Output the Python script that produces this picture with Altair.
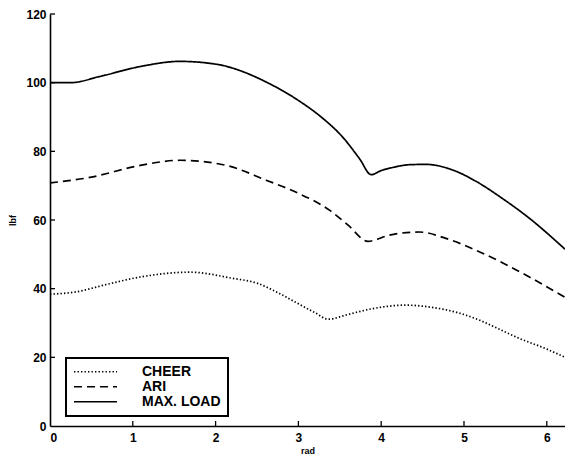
import altair as alt
import pandas as pd

# ---- data ----
series_order = ["CHEER", "ARI", "MAX. LOAD"]

cheer_x = [0.0, 0.3, 0.68, 1.09, 1.69, 2.21, 2.5, 2.77, 3.0, 3.2, 3.36, 3.6, 3.9, 4.3, 4.6, 4.94, 5.19, 5.39, 5.67, 5.99, 6.22]
cheer_y = [38.4, 39.0, 41.2, 43.4, 44.8, 43.0, 41.6, 38.6, 35.6, 33.0, 31.1, 32.5, 34.2, 35.2, 34.6, 32.9, 30.8, 28.6, 25.5, 22.5, 20.0]

ari_x = [0.0, 0.48, 1.09, 1.57, 2.13, 2.61, 2.98, 3.38, 3.6, 3.84, 4.1, 4.46, 4.8, 5.19, 5.79, 6.22]
ari_y = [70.8, 72.4, 75.9, 77.4, 75.9, 71.6, 68.0, 62.8, 58.5, 53.8, 55.6, 56.5, 54.5, 50.7, 43.4, 37.5]

max_x = [0.0, 0.25, 0.6, 1.09, 1.57, 2.05, 2.21, 2.61, 3.02, 3.26, 3.54, 3.74, 3.88, 4.0, 4.14, 4.34, 4.54, 4.87, 5.15, 5.45, 5.79, 6.22]
max_y = [100.0, 100.0, 101.8, 104.7, 106.2, 105.2, 104.2, 100.2, 94.5, 90.3, 84.0, 77.8, 73.2, 74.4, 75.3, 76.1, 76.2, 74.5, 71.2, 66.5, 60.5, 51.5]

x_ticks = [0, 1, 2, 3, 4, 5, 6]
y_ticks = [0, 20, 40, 60, 80, 100, 120]

dash_styles = [[1.4, 2.1], [8, 5], [1, 0]]

rows = []
for name, xs, ys in [("CHEER", cheer_x, cheer_y), ("ARI", ari_x, ari_y), ("MAX. LOAD", max_x, max_y)]:
    for xv, yv in zip(xs, ys):
        rows.append({"series": name, "rad": xv, "lbf": yv})
df = pd.DataFrame(rows)

W, H = 515, 412
FONT = "Liberation Sans"

x_scale = alt.Scale(domain=[0, 6.22], nice=False, zero=False)
y_scale = alt.Scale(domain=[0, 120], nice=False)

axis_common = dict(
    ticks=False, grid=False, domainColor="black", domainWidth=1.6,
    labelFont=FONT, labelFontSize=12, labelFontWeight="bold", labelColor="black",
    titleFont=FONT, titleFontSize=9, titleFontWeight="bold", titleColor="black",
)

x_axis = alt.Axis(values=x_ticks, title="rad", labelPadding=6, titlePadding=3, **axis_common)
y_axis = alt.Axis(values=y_ticks, title="lbf", labelPadding=4, titlePadding=8, **axis_common)

lines = alt.Chart(df).mark_line(color="black", strokeWidth=1.7, interpolate="monotone").encode(
    x=alt.X("rad:Q", scale=x_scale, axis=x_axis),
    y=alt.Y("lbf:Q", scale=y_scale, axis=y_axis),
    strokeDash=alt.StrokeDash(
        "series:N",
        scale=alt.Scale(domain=series_order, range=dash_styles),
        sort=series_order,
        legend=alt.Legend(
            title=None, orient="none", legendX=16, legendY=344,
            symbolType="stroke", symbolSize=1849, symbolStrokeWidth=1.7,
            symbolStrokeColor="black",
            labelFont=FONT, labelFontSize=14, labelFontWeight="bold", labelColor="black",
            labelOffset=24, clipHeight=13.5, rowPadding=0, padding=7,
            strokeColor="black",
        ),
    ),
)

ytick_df = pd.DataFrame({"lbf": y_ticks[1:]})
xtick_df = pd.DataFrame({"rad": x_ticks[1:]})

yticks = alt.Chart(ytick_df).mark_rule(color="black", strokeWidth=1.3).encode(
    y=alt.Y("lbf:Q", scale=y_scale, axis=y_axis),
    x=alt.value(0), x2=alt.value(5),
)
xticks = alt.Chart(xtick_df).mark_rule(color="black", strokeWidth=1.3).encode(
    x=alt.X("rad:Q", scale=x_scale, axis=x_axis),
    y=alt.value(H), y2=alt.value(H - 5),
)

chart = alt.layer(lines, yticks, xticks).properties(
    width=W, height=H,
    autosize=alt.AutoSizeParams(type="none"),
    padding={"left": 50, "top": 14, "right": 0, "bottom": 29},
    background="white",
).configure_view(stroke=None).configure_legend(strokeWidth=2)

chart.save("out.html", embed_options={"renderer": "svg", "actions": False})
